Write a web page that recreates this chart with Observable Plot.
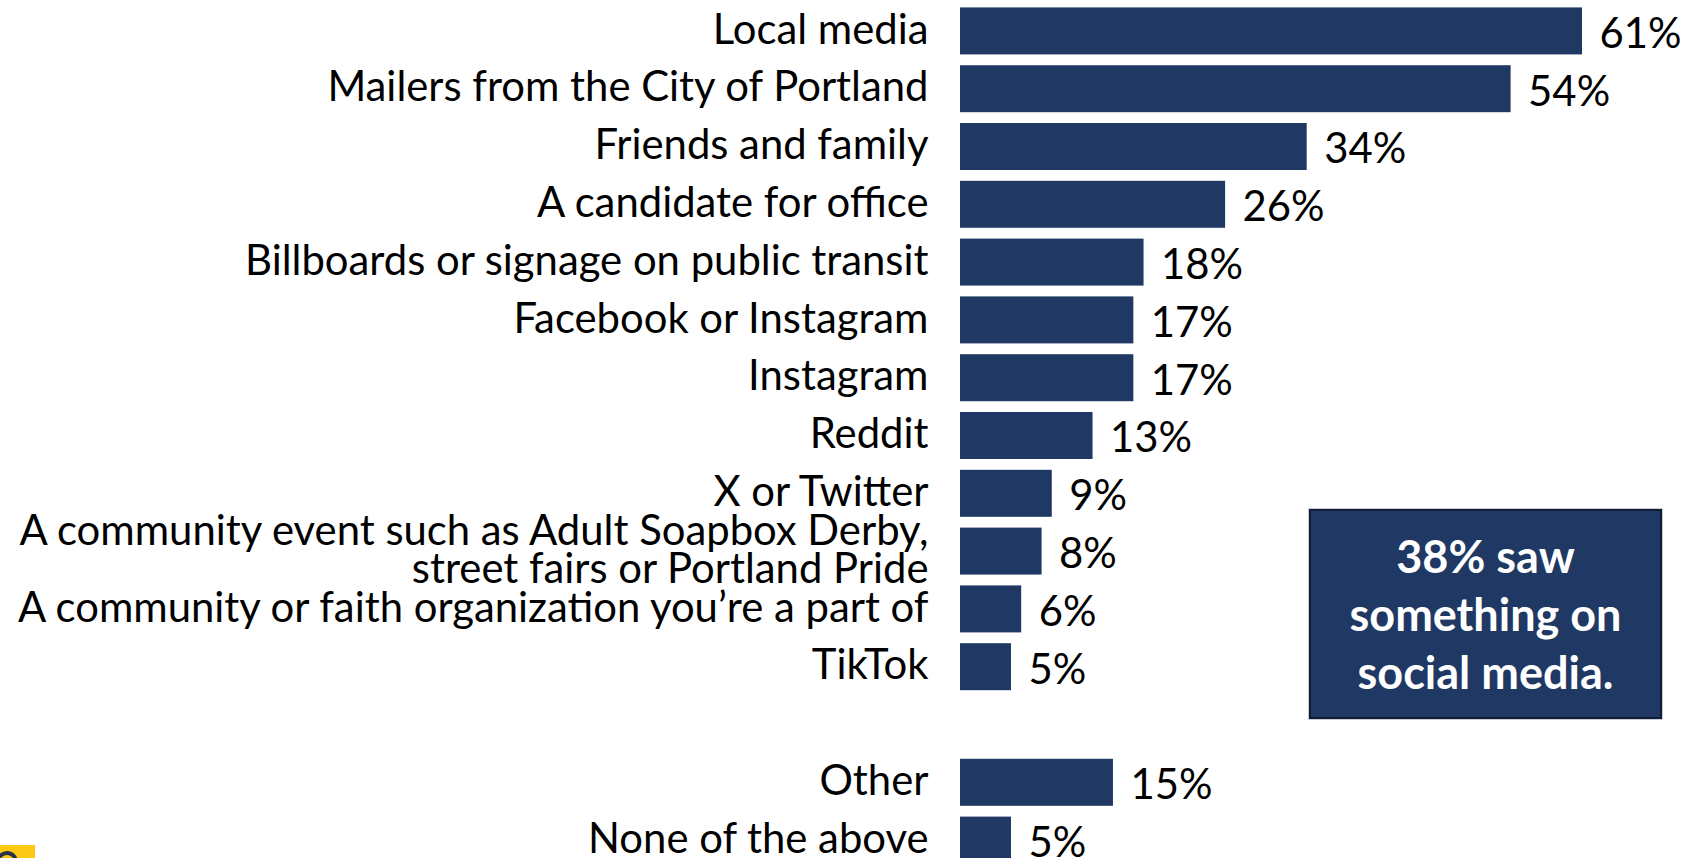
<!DOCTYPE html>
<html>
<head>
<meta charset="utf-8">
<script src="https://cdn.jsdelivr.net/npm/d3@7"></script>
<script src="https://cdn.jsdelivr.net/npm/@observablehq/plot@0.6"></script>
<style>
  html, body { margin: 0; padding: 0; background: #ffffff; }
  #wrap { position: relative; width: 1696px; height: 858px; overflow: hidden; background: #fff; }
  #wrap svg { display: block; }
  #callout {
    position: absolute; left: 1309px; top: 509px; width: 349px; height: 206px;
    background: #1f3864; border: 2px solid #0e1d38; outline: 1px solid #c9ccd3;
    color: #fff; font-family: Lato, sans-serif; font-weight: 700;
    display: flex; align-items: center; justify-content: center; text-align: center;
  }
  #logo { position: absolute; left: 0; top: 845px; width: 35px; height: 20px; background: #fdc914; overflow: hidden; }
  #logo::after { content: ""; position: absolute; left: -4px; top: 6px; width: 22px; height: 22px; border-radius: 50%; border: 4px solid #26324a; box-sizing: border-box; }
</style>
</head>
<body>
<div id="wrap"></div>
<script>
const categories = [
  "Local media",
  "Mailers from the City of Portland",
  "Friends and family",
  "A candidate for office",
  "Billboards or signage on public transit",
  "Facebook or Instagram",
  "Instagram",
  "Reddit",
  "X or Twitter",
  "A community event such as Adult Soapbox Derby,\nstreet fairs or Portland Pride",
  "A community or faith organization you’re a part of",
  "TikTok",
  "Other",
  "None of the above"
];
const values = [61, 54, 34, 26, 18, 17, 17, 13, 9, 8, 6, 5, 15, 5];
const spacer = " ";
const yOrder = [...categories.slice(0, 12), spacer, ...categories.slice(12)];
const calloutLines = ["38% saw", "something on", "social media."];

const data = categories.map((c, i) => ({category: c, value: values[i]}));

function fitSize(text, weight, target) {
  const ctx = document.createElement("canvas").getContext("2d");
  ctx.font = `${weight} 100px Lato`;
  return 100 * target / ctx.measureText(text).width;
}
const labelSize = fitSize("A community or faith organization you’re a part of", 400, 915);
const calloutSize = fitSize("something on", 700, 272);

const chart = Plot.plot({
  width: 1696,
  height: 858,
  marginTop: 0, marginBottom: 0, marginLeft: 0, marginRight: 0,
  style: {fontFamily: "Lato, sans-serif", background: "#ffffff", color: "#000"},
  x: {domain: [0, 61], range: [960, 1582], axis: null},
  y: {domain: yOrder, range: [-3.4, 874.4], padding: 0.187, round: false, axis: null},
  marks: [
    Plot.barX(data, {x: "value", y: "category", fill: "#1f3864"}),
    Plot.text(data, {
      x: 0, y: "category", text: "category", dx: -32,
      textAnchor: "end", lineAnchor: "middle", lineHeight: 38 / labelSize,
      fontSize: labelSize, fill: "#000"
    }),
    Plot.text(data, {
      x: "value", y: "category", text: d => `${d.value}%`, dx: 17, dy: 3,
      textAnchor: "start", lineAnchor: "middle",
      fontSize: labelSize, fill: "#000"
    })
  ]
});

const wrap = document.getElementById("wrap");
wrap.appendChild(chart);

const box = document.createElement("div");
box.id = "callout";
box.style.fontSize = calloutSize + "px";
box.style.lineHeight = "58px";
box.innerHTML = calloutLines.join("<br>");
wrap.appendChild(box);

const logo = document.createElement("div");
logo.id = "logo";
wrap.appendChild(logo);
</script>
</body>
</html>
